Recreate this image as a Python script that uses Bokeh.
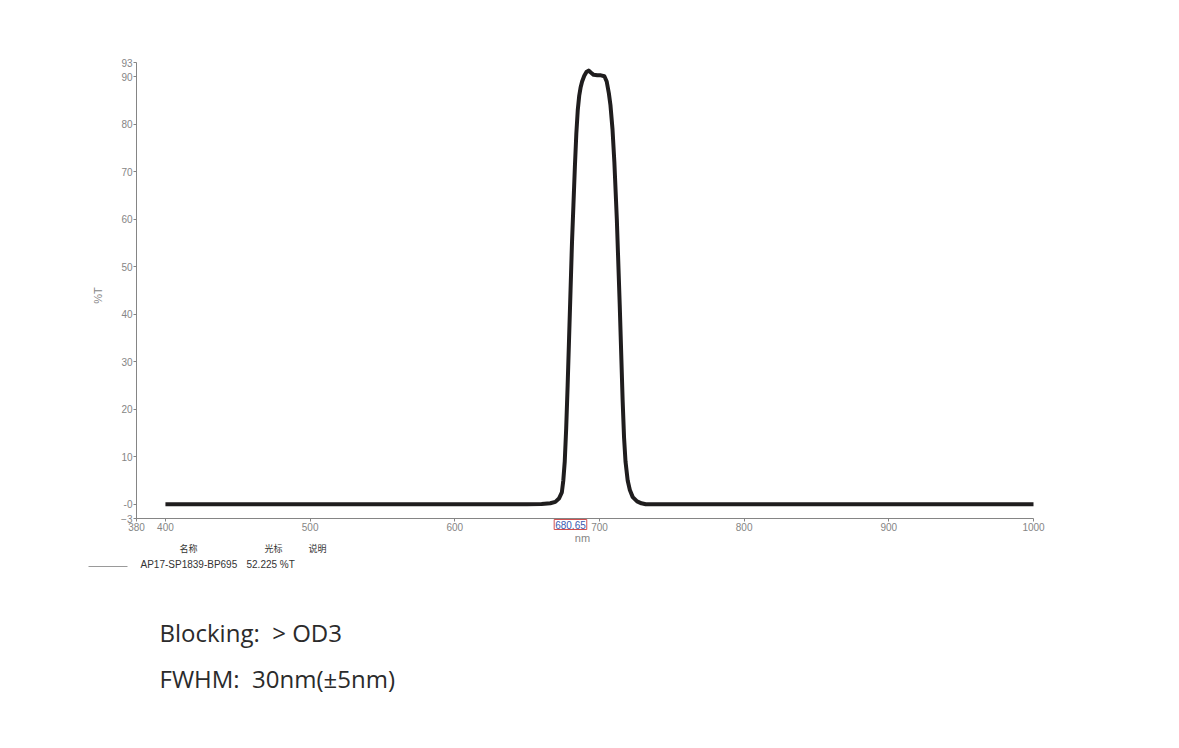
import math
from bokeh.plotting import figure
from bokeh.models import Range1d, FixedTicker, Label, Arrow
from bokeh.embed import file_html
from bokeh.resources import INLINE

# ---- data ----
wavelength = [400, 650, 660, 666, 669.5, 672, 674, 675, 676, 677, 678, 679, 680, 681, 682, 683,
              684, 685, 686, 687, 688, 689.5, 691, 692.5, 694, 696, 698.5, 701, 703.4, 705,
              706.5, 707.6, 709, 710.3, 712, 714, 716, 717, 718, 719.5, 721, 723, 726, 729, 732, 1000]
transmission = [0, 0, 0.05, 0.2, 0.5, 1.2, 2.5, 5, 9, 16, 25, 35, 45, 55, 63, 71,
                78, 83, 86, 87.8, 89, 90.2, 91, 91.3, 90.9, 90.4, 90.3, 90.3, 90.1, 89,
                86.5, 84, 79, 72, 60, 42, 22, 14, 9, 5, 3, 1.5, 0.6, 0.2, 0, 0]
x_ticks = [380, 400, 500, 600, 700, 800, 900, 1000]
y_ticks = [-3, 0, 10, 20, 30, 40, 50, 60, 70, 80, 90, 93]
x_bounds = (380, 1000)
y_bounds = (-3, 93)
cursor_nm = 680.65
cursor_value = "52.225 %T"
series_name = "AP17-SP1839-BP695"
legend_headers = ["名称", "光标", "说明"]
notes = ["Blocking:\u00a0 > OD3", "FWHM:\u00a0 30nm(±5nm)"]

# ---- layout (page pixels) ----
W, H = 1163, 740
AX_L, AX_R, AX_T, AX_B = 136, 1033, 62, 518      # where the axes sit
FR_L, FR_R, FR_T, FR_B = 30, 1110, 30, 705        # enlarged frame (so texts are not clipped)
kx = (AX_R - AX_L) / (x_bounds[1] - x_bounds[0])
ky = (AX_B - AX_T) / (y_bounds[1] - y_bounds[0])

def X(px):
    return x_bounds[0] + (px - AX_L) / kx

def Y(py):
    return y_bounds[0] - (py - AX_B) / ky

p = figure(width=W, height=H, output_backend="svg", toolbar_location=None,
           x_range=Range1d(X(FR_L), X(FR_R)), y_range=Range1d(Y(FR_B), Y(FR_T)),
           min_border_left=FR_L, min_border_right=W - FR_R, min_border_top=FR_T,
           min_border_bottom=H - FR_B)
p.outline_line_color = None
p.xgrid.visible = False
p.ygrid.visible = False

p.line(wavelength, transmission, line_width=4, line_color="#1f1d1e", line_join="round")

gray = "#858585"
for ax in (p.xaxis[0], p.yaxis[0]):
    ax.axis_line_color = gray
    ax.major_tick_line_color = gray
    ax.minor_tick_line_color = None
    ax.major_tick_in = 0
    ax.major_tick_out = 3
    ax.major_label_text_font = "Liberation Sans"
    ax.major_label_text_font_size = "10px"
    ax.major_label_text_color = gray
    ax.major_label_standoff = 1

p.xaxis.ticker = FixedTicker(ticks=x_ticks)
p.yaxis.ticker = FixedTicker(ticks=y_ticks)
p.yaxis.major_label_overrides = {0: "-0"}
p.xaxis.bounds = x_bounds
p.yaxis.bounds = y_bounds
p.xaxis.fixed_location = y_bounds[0]
p.yaxis.fixed_location = x_bounds[0]

def add_text(txt, px, py, size, color="#333333", font="Liberation Sans", align="left",
             angle=0.0, baseline="middle", **kw):
    p.add_layout(Label(x=X(px), y=Y(py), text=txt, text_align=align, text_baseline=baseline,
                       text_font=font, text_font_size=size, text_color=color, angle=angle, **kw))

# axis titles
add_text("%T", 97, 295, "11px", color=gray, align="center", angle=math.pi / 2)
add_text("nm", 582, 537, "11px", color=gray, align="center")

# cursor readout under the x axis
p.add_layout(Label(x=cursor_nm, y=y_bounds[0], text=f"{cursor_nm:.2f}", text_align="center",
                   text_baseline="top", y_offset=-1, x_offset=-1, text_font="Liberation Sans",
                   text_font_size="10px", text_color="#3a5ab0",
                   border_line_color="#d05050", border_line_width=1,
                   background_fill_color="white", padding=1))

# legend table
for txt, cx in zip(legend_headers, [188, 273, 317]):
    add_text(txt, cx, 548, "9px", font="Noto Sans CJK SC", align="center")
p.add_layout(Arrow(x_start=X(88), y_start=Y(566), x_end=X(127), y_end=Y(566), end=None,
                   line_color="#9a9a9a", line_width=1))
add_text(series_name, 140, 564, "10px")
add_text(cursor_value, 246, 564, "10px")

# notes
for txt, cy in zip(notes, [632, 678]):
    add_text(txt, 159, cy, "24px", font="Open Sans", color="#2b2b2b")

open("out.html", "w").write(file_html(p, INLINE))
